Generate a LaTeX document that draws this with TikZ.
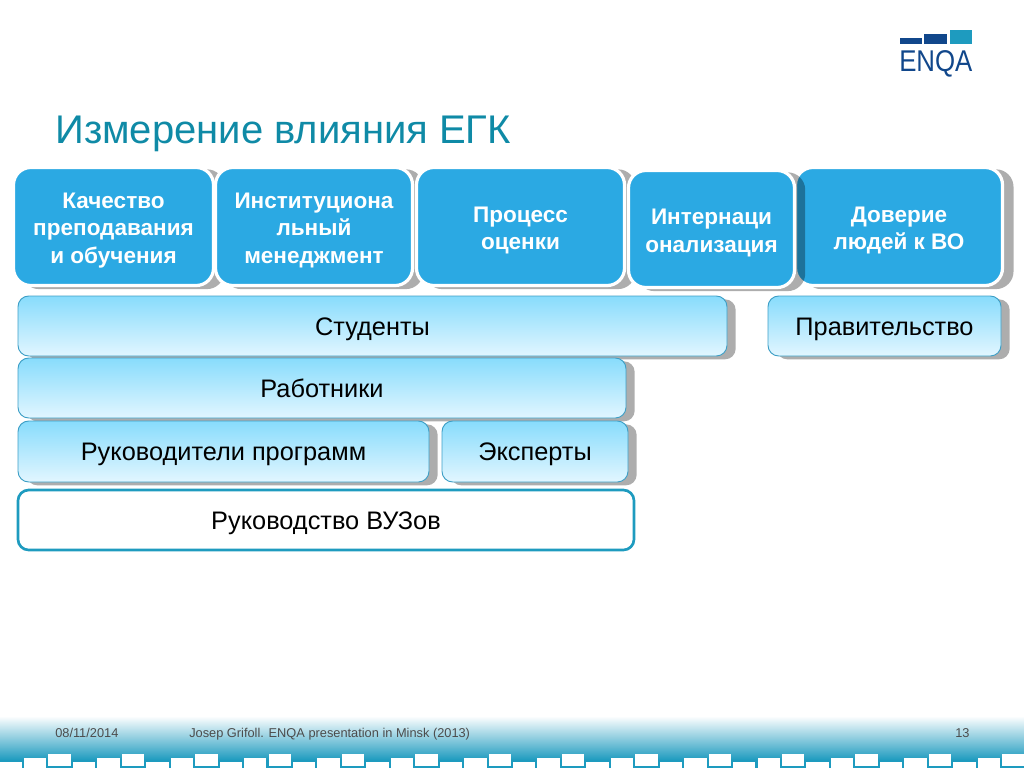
\documentclass[tikz,border=0pt]{standalone}
\usepackage{fontspec}
\setmainfont{Liberation Sans}
\usepackage{xcolor}
\usetikzlibrary{shadows}
\definecolor{enqateal}{HTML}{1E9BBF}
\definecolor{enqatitle}{HTML}{0F8AA6}
\definecolor{enqanavy}{HTML}{11478B}
\definecolor{enqablue}{HTML}{2BA9E3}
\definecolor{lighttop}{HTML}{88DCFC}
\definecolor{lightbot}{HTML}{E2F6FF}
\definecolor{lightline}{HTML}{3E9FC6}
\newcommand{\firstln}{\rule{0pt}{17.5pt}}
\begin{document}
\begin{tikzpicture}[
        x=0.75pt, y=-0.75pt,
        boxsize/.style 2 args = {minimum width=#1*0.75pt, minimum height=#2*0.75pt},
        darkbox/.style = {rectangle, rounded corners=13pt, draw=white, line width=2.4pt, fill=enqablue, inner sep=0pt,
            text=white, align=center, font=\fontsize{16.9}{20.4}\selectfont\bfseries,
            general shadow={shadow xshift=7pt, shadow yshift=-2pt, shadow scale=1.015, fill=black, opacity=.32}},
        lightbox/.style = {rectangle, rounded corners=8pt, draw=lightline, line width=.7pt, top color=lighttop, bottom color=lightbot, inner sep=0pt,
            text=black, font=\fontsize{19}{22}\selectfont, text height=16pt, text depth=2.5pt,
            general shadow={shadow xshift=6.5pt, shadow yshift=-2.5pt, fill=black, opacity=.32}},
        footer/.style = {anchor=base west, inner sep=0pt, text=black!70, font=\fontsize{9.6}{11}\selectfont},
        logobar/.style = {fill=#1, draw=none}
    ]
        \useasboundingbox (0,0) rectangle (1024,768);
        % footer band
        \shade[top color=white, bottom color=enqateal, draw=none] (0,716) rectangle (1024,760);
        \fill[enqateal] (0,760) rectangle (1024,768);
        \foreach \i in {0,...,41} {
            \pgfmathsetmacro{\bartop}{762-4*mod(\i,3)}
            \fill[white] ({24.45*\i-0.45},\bartop) rectangle ++(22.4,12);
        }
        \node[footer] (date) at (55,737) {08/11/2014};
        \node[footer] (talk) at (189,737) {Josep Grifoll. ENQA presentation in Minsk (2013)};
        \node[footer] (page) at (955,737) {13};
        % logo
        \fill[logobar=enqanavy] (900,38) rectangle (922,43.6);
        \fill[logobar=enqanavy] (924,34) rectangle (947,43.6);
        \fill[logobar=enqateal] (949.5,30) rectangle (971.5,43.6);
        \node[anchor=base west, inner sep=0pt, text=enqanavy, font=\fontsize{22.5}{24}\selectfont] (enqa) at (899,71) {\scalebox{.86}[1]{ENQA}};
        % title
        \node[anchor=base west, inner sep=0pt, text=enqatitle, font=\fontsize{30}{32}\selectfont] (title) at (55,143) {Измерение влияния ЕГК};
        % top row
        \node[darkbox, boxsize={200}{118}] (quality) at (113.5,226.5) {\firstln Качество\\преподавания\\и обучения};
        \node[darkbox, boxsize={197}{118}] (management) at (314,226.5) {\firstln Институциона\\льный\\менеджмент};
        \node[darkbox, boxsize={208}{118}] (process) at (520.5,226.5) {\firstln Процесс\\оценки};
        \node[darkbox, boxsize={207}{118}] (trust) at (899,226.5) {\firstln Доверие\\людей к ВО};
        \node[darkbox, boxsize={166}{117}] (intern) at (711.5,229) {\firstln Интернаци\\онализация};
        % actors
        \node[lightbox, boxsize={709}{60}] (students) at (372.5,326) {Студенты};
        \node[lightbox, boxsize={233}{60}] (government) at (884.5,326) {Правительство};
        \node[lightbox, boxsize={608}{60}] (staff) at (322,388) {Работники};
        \node[lightbox, boxsize={411}{61}] (leaders) at (223.5,451.5) {Руководители программ};
        \node[lightbox, boxsize={186}{61}] (experts) at (535,451.5) {Эксперты};
        \node[rectangle, rounded corners=8pt, draw=enqateal, line width=2pt, fill=white, inner sep=0pt, boxsize={616}{60},
            font=\fontsize{19}{22}\selectfont, text height=16pt, text depth=2.5pt] (rectors) at (326,520) {Руководство ВУЗов};
    \end{tikzpicture}
\end{document}
